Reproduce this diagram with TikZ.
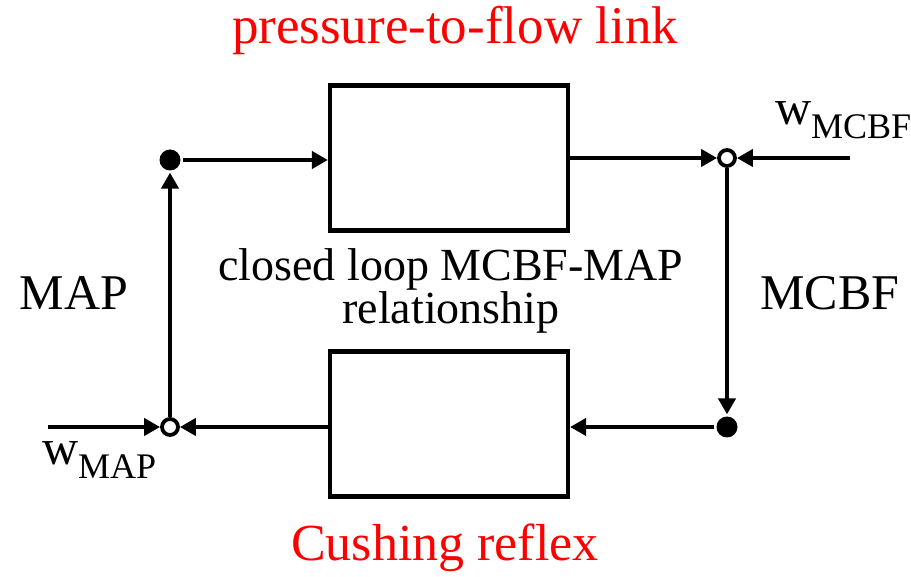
\documentclass[tikz,border=0pt]{standalone}
\usepackage{fontspec}
\setmainfont{Liberation Serif}
\usetikzlibrary{arrows.meta}
\begin{document}
\begin{tikzpicture}[x=1pt,y=-1pt,
  line width=4.2pt,
  arr/.style={-{Triangle[length=16pt,width=17pt]}},
  blk/.style={draw,minimum width=238pt,minimum height=145pt,inner sep=0pt},
  fdot/.style={circle,fill=black,minimum size=21pt,inner sep=0pt},
  odot/.style={circle,draw,fill=white,line width=3.8pt,minimum size=16pt,inner sep=0pt},
  red/.style={text=red},
  big/.style={font=\fontsize{50}{56}\selectfont},
  mid/.style={font=\fontsize{46}{43}\selectfont,align=center}]
\useasboundingbox (0,0) rectangle (911,577);
\node[blk] (top) at (449,158) {};
\node[blk] (bot) at (449,424) {};
\node[fdot] (lt) at (170,160) {};
\node[odot] (lb) at (170,427) {};
\node[odot] (rt) at (727,158) {};
\node[fdot] (rb) at (727,427) {};
\coordinate (winR) at (850,158);
\coordinate (winL) at (48,427);
\draw[arr] (lt) -- (top.west |- lt);
\draw[arr] (top.east |- rt) -- (rt);
\draw[arr] (winR) -- (rt);
\draw[arr] (rt) -- (rb);
\draw[arr] (rb) -- (bot.east |- rb);
\draw[arr] (bot.west |- lb) -- (lb);
\draw[arr] (lb) -- (lt);
\draw[arr] (winL) -- (lb);
\node[red,font=\fontsize{53}{56}\selectfont] (t1) at (455,30) {pressure-to-flow link};
\node[red,font=\fontsize{52}{56}\selectfont] (t2) at (445,548) {Cushing reflex};
\node[big] (map) at (74,293) {MAP};
\node[big] (mcbf) at (830,293) {MCBF};
\node[mid] (cl) at (451,291) {closed loop MCBF-MAP\\relationship};
\node[big,anchor=west,inner sep=0pt] (wm) at (773,120) {w\raisebox{-0.28em}{\fontsize{36}{36}\selectfont MCBF}};
\node[big,anchor=west,inner sep=0pt] (wa) at (40,460) {w\raisebox{-0.28em}{\fontsize{36}{36}\selectfont MAP}};
\end{tikzpicture}
\end{document}
